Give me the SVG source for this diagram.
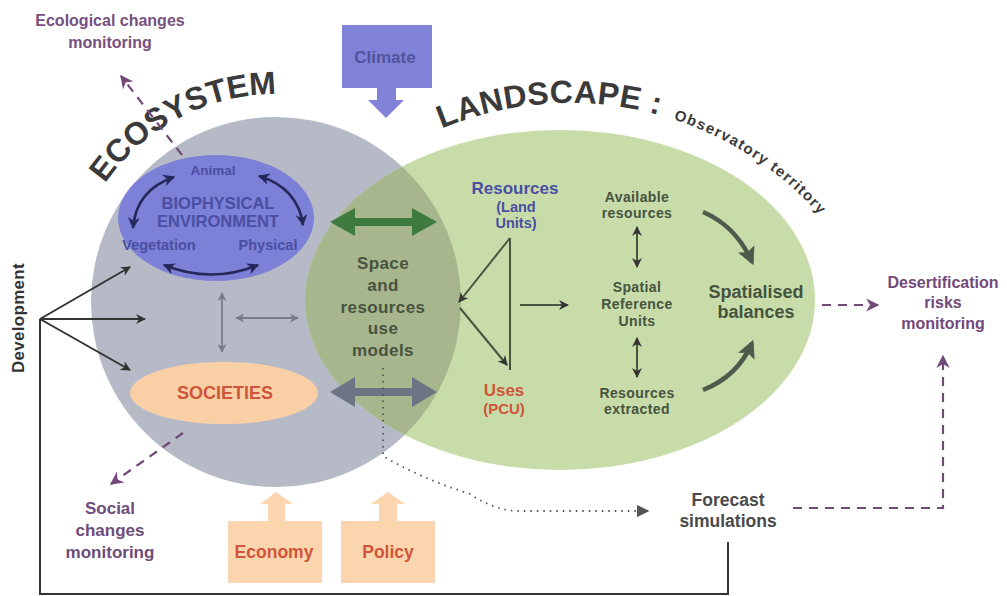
<svg xmlns="http://www.w3.org/2000/svg" width="1007" height="596" viewBox="0 0 1007 596">
<style>
text{font-family:"Liberation Sans",Arial,sans-serif;font-weight:bold;text-anchor:middle}
.big{font-size:32px;fill:#3a3a3a;text-anchor:start}
.purple{fill:#73497a;font-size:16px}
.dgreen{fill:#46533f}
.blue{fill:#4a4fa3}
.red{fill:#d0553a}
.thin{fill:none;stroke:#333;stroke-width:2}
.grey2{fill:none;stroke:#767b8c;stroke-width:2}
.navy{fill:none;stroke:#26285a;stroke-width:2.6}
.pdash{fill:none;stroke:#73497a;stroke-width:2.2;stroke-dasharray:9 7}
</style>
<defs>
<marker id="ad" viewBox="0 0 10 10" refX="9" refY="5" markerWidth="5" markerHeight="5" orient="auto-start-reverse" markerUnits="strokeWidth"><path d="M0,0 L10,5 L0,10 L3,5 Z" fill="#333"/></marker>
<marker id="ag" viewBox="0 0 10 10" refX="9" refY="5" markerWidth="5" markerHeight="5" orient="auto-start-reverse" markerUnits="strokeWidth"><path d="M0,0 L10,5 L0,10 L3,5 Z" fill="#767b8c"/></marker>
<marker id="an" viewBox="0 0 10 10" refX="9" refY="5" markerWidth="4.5" markerHeight="4.5" orient="auto-start-reverse" markerUnits="strokeWidth"><path d="M0,0 L10,5 L0,10 L3,5 Z" fill="#26285a"/></marker>
<marker id="ap" viewBox="0 0 10 10" refX="9" refY="5" markerWidth="6" markerHeight="6" orient="auto" markerUnits="strokeWidth"><path d="M0,0 L10,5 L0,10 L3,5 Z" fill="#73497a"/></marker>
<marker id="adot" viewBox="0 0 10 10" refX="9" refY="5" markerWidth="7" markerHeight="7" orient="auto" markerUnits="strokeWidth"><path d="M0,0 L10,5 L0,10 Z" fill="#555"/></marker>
<marker id="abal" viewBox="0 0 10 10" refX="8" refY="5" markerWidth="4" markerHeight="4" orient="auto" markerUnits="strokeWidth"><path d="M0,0 L10,5 L0,10 L2,5 Z" fill="#4f5a4c"/></marker>
<clipPath id="eco"><circle cx="276" cy="302" r="185"/></clipPath>
<path id="ecoArc" d="M76.6,242.9 A208,208 0 0 1 335.1,102.6"/>
<path id="landArc" d="M403,147.7 A334,334 0 0 1 859.3,270"/>
</defs>

<g id="ecosystem">
<circle cx="276" cy="302" r="185" fill="#b6bac7"/>
<text class="big" style="text-anchor:middle"><textPath href="#ecoArc" startOffset="51%">ECOSYSTEM</textPath></text>
</g>
<g id="landscape">
<ellipse cx="560" cy="300" rx="255" ry="170" fill="#c8dcaa"/>
<ellipse cx="560" cy="300" rx="255" ry="170" fill="#a8b68d" clip-path="url(#eco)"/>
<text class="big" style="letter-spacing:0.3px"><textPath href="#landArc" startOffset="43">LANDSCAPE :</textPath></text>
<text style="font-size:15px;fill:#3a3a3a;text-anchor:start;letter-spacing:1.3px"><textPath href="#landArc" startOffset="280">Observatory territory</textPath></text>
</g>

<g id="biophysical">
<ellipse cx="216" cy="218" rx="98" ry="63" fill="#7c80d6"/>
<text class="blue" x="213" y="175" style="font-size:13.5px">Animal</text>
<text class="blue" x="218" y="209" style="font-size:16.5px">BIOPHYSICAL</text>
<text class="blue" x="218" y="227" style="font-size:16.5px">ENVIRONMENT</text>
<text class="blue" x="159" y="250" style="font-size:14.5px">Vegetation</text>
<text class="blue" x="268" y="250" style="font-size:14.5px">Physical</text>
<path class="navy" d="M133,228 Q136,190 174,177" marker-start="url(#an)" marker-end="url(#an)"/>
<path class="navy" d="M259,176 Q298,188 303,225" marker-start="url(#an)" marker-end="url(#an)"/>
<path class="navy" d="M164,265 Q211,284 258,265" marker-start="url(#an)" marker-end="url(#an)"/>
</g>

<g id="societies">
<ellipse cx="224" cy="393" rx="94" ry="31" fill="#f9d0a6"/>
<text class="red" x="225" y="399" style="font-size:18px">SOCIETIES</text>
</g>

<g id="climate">
<path d="M342,25 H432 V88 H396 V100 H404 L386,118 L368,100 H377 V88 H342 Z" fill="#8082d8"/>
<text x="385" y="63" style="font-size:17px;fill:#51549c">Climate</text>
</g>
<g id="economy">
<path d="M228,583 H322 V521 H285 V504 H293 L276,492 L260,504 H268 V521 H228 Z" fill="#fbd5ad"/>
<text class="red" x="274" y="558" style="font-size:17.5px">Economy</text>
</g>
<g id="policy">
<path d="M341,583 H435 V521 H397 V504 H405 L388,492 L371,504 H379 V521 H341 Z" fill="#fbd5ad"/>
<text class="red" x="388" y="558" style="font-size:17.5px">Policy</text>
</g>

<g id="space-models">
<text class="dgreen" style="font-size:17px;letter-spacing:0.4px"><tspan x="383" y="269">Space</tspan><tspan x="383" y="291">and</tspan><tspan x="383" y="313">resources</tspan><tspan x="383" y="334">use</tspan><tspan x="383" y="356">models</tspan></text>
</g>
<g id="resources">
<text class="blue" x="515" y="194" style="font-size:17px">Resources</text>
<text class="blue" x="516" y="212" style="font-size:14.5px">(Land</text>
<text class="blue" x="516" y="228" style="font-size:14.5px">Units)</text>
</g>
<g id="uses">
<text class="red" x="504" y="396" style="font-size:17px">Uses</text>
<text class="red" x="504" y="414" style="font-size:15px">(PCU)</text>
</g>
<g id="available">
<text class="dgreen" style="font-size:14px;letter-spacing:0.4px"><tspan x="637" y="202">Available</tspan><tspan x="637" y="218">resources</tspan></text>
</g>
<g id="sru">
<text class="dgreen" style="font-size:14px;letter-spacing:0.4px"><tspan x="637" y="292">Spatial</tspan><tspan x="637" y="309">Reference</tspan><tspan x="637" y="326">Units</tspan></text>
</g>
<g id="extracted">
<text class="dgreen" style="font-size:14px;letter-spacing:0.4px"><tspan x="637" y="398">Resources</tspan><tspan x="637" y="414">extracted</tspan></text>
</g>
<g id="balances">
<text class="dgreen" style="font-size:18px"><tspan x="756" y="298">Spatialised</tspan><tspan x="756" y="318">balances</tspan></text>
</g>
<g id="desertification">
<text class="purple" style="font-size:16px"><tspan x="943" y="288">Desertification</tspan><tspan x="943" y="308">risks</tspan><tspan x="943" y="329">monitoring</tspan></text>
</g>
<g id="forecast">
<text x="728" y="506" style="font-size:17.5px;fill:#4a4a4a"><tspan x="728" y="506">Forecast</tspan><tspan x="728" y="527">simulations</tspan></text>
</g>
<g id="ecological">
<text class="purple" style="fill:#765080"><tspan x="110" y="26">Ecological changes</tspan><tspan x="110" y="48">monitoring</tspan></text>
</g>
<g id="social">
<text class="purple" style="font-size:17px;fill:#6e4c7a"><tspan x="110" y="514">Social</tspan><tspan x="110" y="536">changes</tspan><tspan x="110" y="558">monitoring</tspan></text>
</g>
<g id="development">
<text transform="translate(24,318) rotate(-90)" style="font-size:17px;fill:#333;letter-spacing:0.3px">Development</text>
</g>

<g id="connectors">
<path d="M330,222 L355,208 L355,218 L412,218 L412,208 L437,222 L412,236 L412,226 L355,226 L355,236 Z" fill="#3f7a3f"/>
<path d="M330,392 L355,377 L355,388 L412,388 L412,377 L437,392 L412,407 L412,396 L355,396 L355,407 Z" fill="#6d7484"/>
<line class="grey2" x1="222" y1="293" x2="222" y2="352" marker-start="url(#ag)" marker-end="url(#ag)" style="stroke-width:1.8"/>
<line class="grey2" x1="236" y1="318" x2="298" y2="318" marker-start="url(#ag)" marker-end="url(#ag)" style="stroke-width:1.8"/>
<line class="thin" x1="40" y1="319" x2="130" y2="267" marker-end="url(#ad)"/>
<line class="thin" x1="40" y1="319" x2="145" y2="319" marker-end="url(#ad)"/>
<line class="thin" x1="40" y1="319" x2="130" y2="370" marker-end="url(#ad)"/>
<polyline class="thin" points="40,319 40,594 728,594 728,542"/>
<line class="thin" x1="510" y1="238" x2="510" y2="370" style="stroke:#47553f"/>
<line class="thin" x1="510" y1="238" x2="459" y2="302" style="stroke:#47553f" marker-end="url(#ad)"/>
<line class="thin" x1="460" y1="308" x2="507" y2="365" style="stroke:#47553f" marker-end="url(#ad)"/>
<line class="thin" x1="520" y1="305" x2="568" y2="305" style="stroke:#47553f" marker-end="url(#ad)"/>
<line class="thin" x1="637" y1="227" x2="637" y2="267" style="stroke:#47553f" marker-start="url(#ad)" marker-end="url(#ad)"/>
<line class="thin" x1="637" y1="338" x2="637" y2="377" style="stroke:#47553f" marker-start="url(#ad)" marker-end="url(#ad)"/>
<path d="M703,212 Q736,226 752,262" fill="none" stroke="#4f5a4c" stroke-width="4.5" marker-end="url(#abal)"/>
<path d="M703,390 Q738,376 752,343" fill="none" stroke="#4f5a4c" stroke-width="4.5" marker-end="url(#abal)"/>
<path d="M383,368 V456 Q420,478 470,494 Q495,511 520,511 H648" fill="none" stroke="#555" stroke-width="1.8" stroke-dasharray="1.5 5" marker-end="url(#adot)"/>
<line class="pdash" x1="822" y1="305" x2="878" y2="305" marker-end="url(#ap)"/>
<polyline class="pdash" points="793,508 943,508 943,356" marker-end="url(#ap)"/>
<line class="pdash" x1="182" y1="155" x2="121" y2="76" marker-end="url(#ap)"/>
<line class="pdash" x1="183" y1="433" x2="111" y2="484" marker-end="url(#ap)"/>
</g>
</svg>
